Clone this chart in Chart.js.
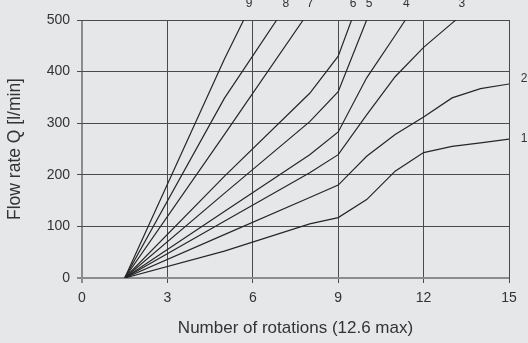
<!DOCTYPE html>
<html>
<head>
<meta charset="utf-8">
<script src="https://cdn.jsdelivr.net/npm/chart.js@4"></script>
<style>
  html, body { margin: 0; padding: 0; background: #e6e7e8; }
  #wrap { width: 528px; height: 343px; position: relative; }
</style>
</head>
<body>
<div id="wrap"><canvas id="c" width="528" height="343"></canvas></div>
<script>
// ---- data ----
const curveNames = ['1', '2', '3', '4', '5', '6', '7', '8', '9'];
const rot1 = [1.5, 5, 8, 9, 10, 11, 12, 13, 14, 15];
const flow1 = [0, 52, 105, 117, 152, 207, 243, 255, 262, 269];
const rot2 = [1.5, 5, 8, 9, 10, 11, 12, 13, 14, 15];
const flow2 = [0, 84, 156, 180, 236, 278, 312, 349, 367, 376];
const rot3 = [1.5, 5, 8, 9, 10, 11, 12, 13, 13.13];
const flow3 = [0, 110, 204, 239, 316, 390, 447, 494, 500];
const rot4 = [1.5, 5, 8, 9, 10, 11, 11.36];
const flow4 = [0, 129, 239, 283, 388, 470, 500];
const rot5 = [1.5, 5, 8, 9, 10];
const flow5 = [0, 164, 303, 361, 500];
const rot6 = [1.5, 5, 8, 9, 9.47];
const flow6 = [0, 197, 358, 430, 500];
const rot7 = [1.5, 5, 7.77];
const flow7 = [0, 278, 500];
const rot8 = [1.5, 5, 6.84];
const flow8 = [0, 348, 500];
const rot9 = [1.5, 5, 5.68];
const flow9 = [0, 424, 500];
const xTicks = [0, 3, 6, 9, 12, 15];
const yTicks = [0, 100, 200, 300, 400, 500];

const rots = [rot1, rot2, rot3, rot4, rot5, rot6, rot7, rot8, rot9];
const flows = [flow1, flow2, flow3, flow4, flow5, flow6, flow7, flow8, flow9];

// label nudges (pixels) for the curve names
const labelNudge = { '1': -1, '2': -5, '3': 6, '4': 1, '5': 2.5, '6': 1.5, '7': 7, '8': 9, '9': 5.5 };

const FONT = '"Liberation Sans", Arial, sans-serif';
const TXT = '#333333';

const datasets = curveNames.map((n, i) => ({
  label: n,
  data: rots[i].map((x, k) => ({ x: x, y: flows[i][k] })),
  borderColor: '#262626',
  borderWidth: 1.2,
  pointRadius: 0,
  tension: 0,
  fill: false
}));

const curveLabels = {
  id: 'curveLabels',
  afterDatasetsDraw(chart) {
    const ctx = chart.ctx;
    const area = chart.chartArea;
    ctx.save();
    ctx.fillStyle = TXT;
    ctx.font = '12px ' + FONT;
    ctx.textAlign = 'center';
    ctx.textBaseline = 'alphabetic';
    chart.data.datasets.forEach((ds, i) => {
      const meta = chart.getDatasetMeta(i);
      const last = meta.data[meta.data.length - 1];
      const lastVal = ds.data[ds.data.length - 1];
      const nudge = labelNudge[ds.label] || 0;
      if (lastVal.y >= chart.scales.y.max) {
        ctx.fillText(ds.label, last.x + nudge, area.top - 13);
      } else {
        ctx.textBaseline = 'middle';
        ctx.fillText(ds.label, area.right + 15, last.y + nudge);
        ctx.textBaseline = 'alphabetic';
      }
    });
    ctx.restore();
  }
};

const bg = {
  id: 'bg',
  beforeDraw(chart) {
    const ctx = chart.ctx;
    ctx.save();
    ctx.fillStyle = '#e6e7e8';
    ctx.fillRect(0, 0, chart.width, chart.height);
    ctx.restore();
  }
};

new Chart(document.getElementById('c'), {
  type: 'line',
  data: { datasets },
  plugins: [bg, curveLabels],
  options: {
    responsive: false,
    animation: false,
    events: [],
    layout: { padding: { top: 20, right: 19, left: 0, bottom: 0 } },
    plugins: { legend: { display: false }, tooltip: { enabled: false } },
    scales: {
      x: {
        type: 'linear',
        min: 0, max: 15,
        afterBuildTicks: s => { s.ticks = xTicks.map(v => ({ value: v })); },
        afterFit: s => { s.height = 65; },
        ticks: { color: TXT, font: { family: FONT, size: 14 }, padding: 7 },
        grid: {
          color: c => (c.tick && c.tick.value === 0) ? '#8c8c8c' : '#4a4a4a',
          lineWidth: c => (c.tick && c.tick.value === 0) ? 2 : 1,
          tickLength: 5,
          drawTicks: true
        },
        border: { display: false },
        title: {
          display: true,
          text: 'Number of rotations (12.6 max)',
          color: TXT,
          font: { family: FONT, size: 17 },
          padding: { top: 4, bottom: 4 }
        }
      },
      y: {
        type: 'linear',
        min: 0, max: 500,
        afterBuildTicks: s => { s.ticks = yTicks.map(v => ({ value: v })); },
        afterFit: s => { s.width = 82; },
        ticks: { color: TXT, font: { family: FONT, size: 14 }, padding: 7 },
        grid: {
          color: c => (c.tick && c.tick.value === 0) ? '#8c8c8c' : '#4a4a4a',
          lineWidth: c => (c.tick && c.tick.value === 0) ? 2 : 1,
          tickLength: 5,
          drawTicks: true
        },
        border: { display: false },
        title: {
          display: true,
          text: 'Flow rate Q [l/min]',
          color: TXT,
          font: { family: FONT, size: 17.5 },
          padding: { top: 5, bottom: 0 }
        }
      }
    }
  }
});
</script>
</body>
</html>
